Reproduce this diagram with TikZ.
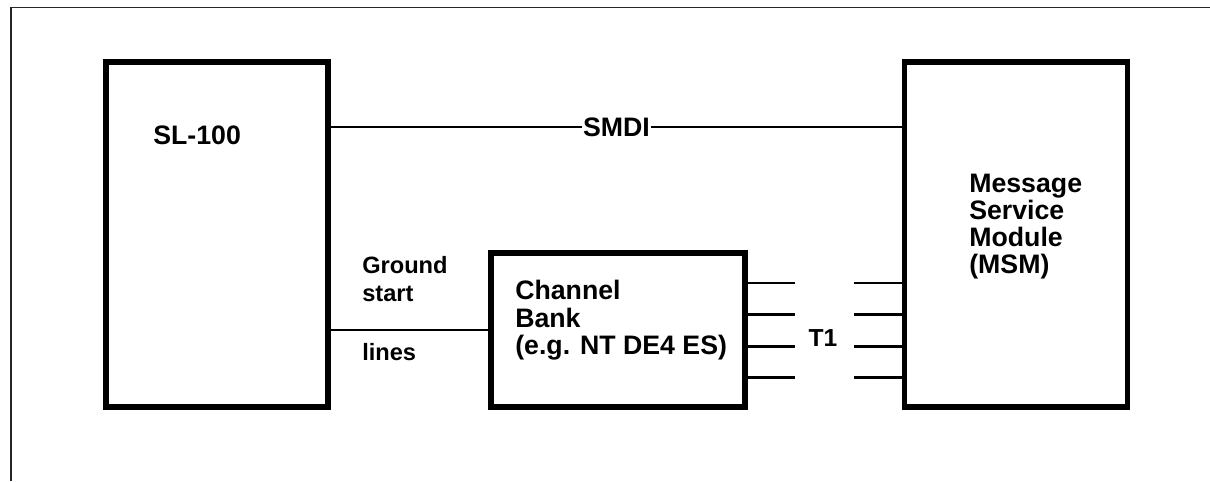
\documentclass[tikz,border=0pt]{standalone}
\usepackage{fontspec}
\setmainfont{Liberation Sans}
\usetikzlibrary{positioning,calc}

\begin{document}
\begin{tikzpicture}[
  font=\bfseries\fontsize{19}{19.3}\selectfont,
  unit/.style={draw, line width=3.6pt, inner sep=0pt},
  link/.style={line width=2pt},
  frame/.style={line width=1.2pt, draw=black!85},
  txt/.style={anchor=west, align=left, inner sep=0pt},
  small/.style={txt, font=\bfseries\fontsize{16.8}{20}\selectfont},
]
\useasboundingbox (0,0) rectangle (30.25,12.025);

% ===== outer frame (only top and left edge show) =====
\coordinate (fbl) at (0.275,0);
\coordinate (ftr) at (30.5,11.84);
\draw[frame] (fbl) |- (ftr);

% ===== units =====
\node[unit, minimum width=5.55cm, minimum height=8.625cm] (sl) at (5.425,6.1625) {};
\node[unit, minimum width=5.575cm, minimum height=8.625cm] (msm) at (25.41,6.1625) {};
\node[unit, minimum width=6.35cm, minimum height=3.85cm] (bank) at (15.45,3.775) {};

\node[txt] (sltext) at (3.825,8.65) {SL-100};
\node[txt] (msmtext) at (24.225,6.36) {Message\\Service\\Module\\(MSM)};
\node[txt] (banktext) at (12.875,4.02) {Channel\\Bank\\(e.g. NT DE4 ES)};

% ===== SMDI link =====
\coordinate (smdi) at (0,8.85);
\draw[link] (sl.east|-smdi) -- node[fill=white, inner sep=1pt]{SMDI} (msm.west|-smdi);

% ===== ground start lines =====
\draw[link] (sl.east|-bank.west) -- (bank.west);
\node[small] (gnd) at (9.05,5.05) {Ground\\start};
\node[small] (lines) at (9.05,3.225) {lines};

% ===== T1 stubs =====
\foreach \i in {0,...,3}{
  \coordinate (t\i) at (0,4.95-0.79*\i);
  \draw[link] (bank.east|-t\i) -- ++(1.175,0);
  \draw[link] (msm.west|-t\i) -- ++(-1.2,0);
}
\node[font=\bfseries\fontsize{17.5}{19}\selectfont, inner sep=0pt] (t1) at (20.575,3.575) {T1};

\end{tikzpicture}
\end{document}
